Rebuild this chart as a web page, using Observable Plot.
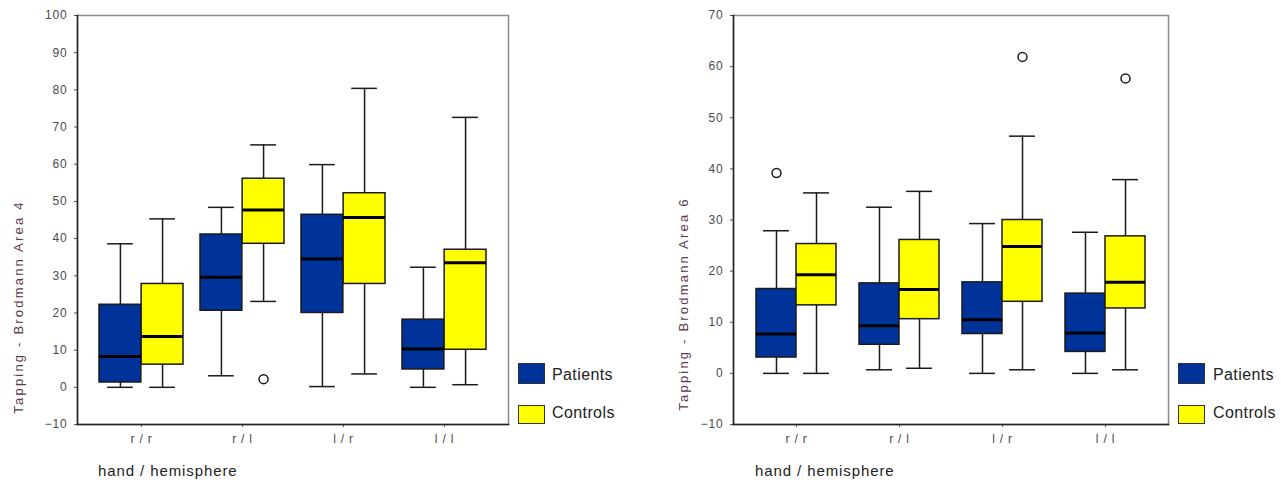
<!DOCTYPE html>
<html><head><meta charset="utf-8">
<script src="https://cdn.jsdelivr.net/npm/d3@7"></script>
<script src="https://cdn.jsdelivr.net/npm/@observablehq/plot@0.6"></script>
<style>
body{margin:0;background:#fff;font-family:"Liberation Sans",Arial,sans-serif;}
#wrap{position:relative;width:1281px;height:485px;overflow:hidden;background:#fff}
.panel{position:absolute;top:0}
.ytitle{position:absolute;transform:translate(-50%,-50%) rotate(-90deg);white-space:nowrap;font-size:13px;letter-spacing:2.2px;color:#5a3a4e}
.xtitle{position:absolute;white-space:nowrap;font-size:15px;letter-spacing:0.9px;color:#222}
.lg-box{position:absolute;width:25px;box-sizing:border-box;border:1.5px solid #333}
.lg-text{position:absolute;white-space:nowrap;font-size:16px;letter-spacing:0.4px;color:#222;transform:translateY(-50%)}
</style></head><body><div id="wrap"></div>
<script>
// categories and groups
const categories = ["r / r", "r / l", "l / r", "l / l"];
const groups = ["Patients", "Controls"];
const groupColors = ["#003399", "#ffff00"];

// Brodmann Area 4 — each row: [low whisker, Q1, median, Q3, high whisker]
const area4Patients = [
  [0, 1.3, 8.3, 22.2, 38.6],
  [3.1, 20.6, 29.6, 41.1, 48.4],
  [0.2, 20.0, 34.5, 46.4, 59.9],
  [0, 4.8, 10.3, 18.2, 32.3]
];
const area4Controls = [
  [0, 6.1, 13.7, 27.8, 45.3],
  [23.1, 38.6, 47.7, 56.1, 65.2],
  [3.6, 27.8, 45.7, 52.2, 80.4],
  [0.7, 10.1, 33.5, 37.0, 72.6]
];
const area4Outliers = [
  {category: "r / l", group: "Controls", value: 2.2}
];
const area4YTicks = [-10, 0, 10, 20, 30, 40, 50, 60, 70, 80, 90, 100];

// Brodmann Area 6
const area6Patients = [
  [0, 3.1, 7.7, 16.5, 27.9],
  [0.7, 5.6, 9.3, 17.6, 32.5],
  [0, 7.7, 10.5, 17.8, 29.3],
  [0, 4.2, 7.9, 15.6, 27.6]
];
const area6Controls = [
  [0, 13.3, 19.3, 25.3, 35.3],
  [1.0, 10.6, 16.4, 26.1, 35.6],
  [0.7, 14.0, 24.8, 30.0, 46.4],
  [0.7, 12.7, 17.8, 26.8, 37.9]
];
const area6Outliers = [
  {category: "r / r", group: "Patients", value: 39.2},
  {category: "l / r", group: "Controls", value: 61.9},
  {category: "l / l", group: "Controls", value: 57.7}
];
const area6YTicks = [-10, 0, 10, 20, 30, 40, 50, 60, 70];

const yTitles = ["Tapping - Brodmann Area 4", "Tapping - Brodmann Area 6"];
const xTitle = "hand / hemisphere";

function toRows(stats, group) {
  return stats.map((s, i) => ({category: categories[i], group, low: s[0], q1: s[1], median: s[2], q3: s[3], high: s[4]}));
}

function panel({patients, controls, outliers, yDomain, yTicks, width, ml, mr, mt, mb, height, pi, po}) {
  const n = categories.length;
  const step = (width - ml - mr) / (n - pi + 2 * po);
  const bw = step * (1 - pi);
  const half = bw / 2, cap = 13;
  const P = toRows(patients, groups[0]);
  const C = toRows(controls, groups[1]);
  const oP = outliers.filter(d => d.group === groups[0]);
  const oC = outliers.filter(d => d.group === groups[1]);
  const ink = "#1a1a1a";
  return Plot.plot({
    width, height, marginLeft: ml, marginRight: mr, marginTop: mt, marginBottom: mb,
    style: {fontSize: "12px", letterSpacing: "0.8px", fontFamily: "'Liberation Sans', Arial, sans-serif", color: "#4a4a4a", background: "transparent"},
    x: {domain: categories, paddingInner: pi, paddingOuter: po, tickSize: 3, tickPadding: 7, label: null},
    y: {domain: yDomain, ticks: yTicks, tickSize: 3, tickPadding: 7, label: null},
    marks: [
      Plot.frame({stroke: "#8a8a8a", strokeWidth: 1.5}),
      Plot.frame({anchor: "left", stroke: "#222", strokeWidth: 1.5}),
      Plot.frame({anchor: "bottom", stroke: "#222", strokeWidth: 1.5}),
      // whiskers
      Plot.ruleX(P, {x: "category", y1: "low", y2: "high", dx: -bw / 4, stroke: ink, strokeWidth: 1.5}),
      Plot.ruleX(C, {x: "category", y1: "low", y2: "high", dx: bw / 4, stroke: ink, strokeWidth: 1.5}),
      Plot.tickY(P, {x: "category", y: "high", insetLeft: bw / 4 - cap, insetRight: 3 * bw / 4 - cap, stroke: ink, strokeWidth: 1.5}),
      Plot.tickY(P, {x: "category", y: "low", insetLeft: bw / 4 - cap, insetRight: 3 * bw / 4 - cap, stroke: ink, strokeWidth: 1.5}),
      Plot.tickY(C, {x: "category", y: "high", insetLeft: 3 * bw / 4 - cap, insetRight: bw / 4 - cap, stroke: ink, strokeWidth: 1.5}),
      Plot.tickY(C, {x: "category", y: "low", insetLeft: 3 * bw / 4 - cap, insetRight: bw / 4 - cap, stroke: ink, strokeWidth: 1.5}),
      // boxes
      Plot.barY(P, {x: "category", y1: "q1", y2: "q3", insetRight: half, fill: groupColors[0], stroke: ink, strokeWidth: 1.5}),
      Plot.barY(C, {x: "category", y1: "q1", y2: "q3", insetLeft: half, fill: groupColors[1], stroke: ink, strokeWidth: 1.5}),
      // medians
      Plot.tickY(P, {x: "category", y: "median", insetRight: half, stroke: "#000", strokeWidth: 3}),
      Plot.tickY(C, {x: "category", y: "median", insetLeft: half, stroke: "#000", strokeWidth: 3}),
      // outliers
      Plot.dot(oP, {x: "category", y: "value", dx: -bw / 4, r: 4.5, fill: "#fff", stroke: ink, strokeWidth: 1.5}),
      Plot.dot(oC, {x: "category", y: "value", dx: bw / 4, r: 4.5, fill: "#fff", stroke: ink, strokeWidth: 1.5})
    ]
  });
}

const wrap = document.getElementById("wrap");

function addPanel(svg, left) {
  const d = document.createElement("div");
  d.className = "panel";
  d.style.left = left + "px";
  d.appendChild(svg);
  wrap.appendChild(d);
}

addPanel(panel({patients: area4Patients, controls: area4Controls, outliers: area4Outliers,
  yDomain: [-10, 100], yTicks: area4YTicks, width: 640, height: 485, ml: 77, mr: 132, mt: 15, mb: 61, pi: 0.17, po: 0.207}), 0);
addPanel(panel({patients: area6Patients, controls: area6Controls, outliers: area6Outliers,
  yDomain: [-10, 70], yTicks: area6YTicks, width: 641, height: 485, ml: 93, mr: 113, mt: 15, mb: 61, pi: 0.223, po: 0.223}), 640);

function addText(cls, text, x, y) {
  const d = document.createElement("div");
  d.className = cls;
  d.textContent = text;
  d.style.left = x + "px";
  d.style.top = y + "px";
  wrap.appendChild(d);
  return d;
}

addText("ytitle", yTitles[0], 18, 307);
addText("ytitle", yTitles[1], 683, 304);
addText("xtitle", xTitle, 98, 462);
addText("xtitle", xTitle, 755, 462);

function legend(x, textX) {
  const tops = [363, 405], heights = [21, 19], centers = [375, 413];
  groups.forEach((g, i) => {
    const b = document.createElement("div");
    b.className = "lg-box";
    b.style.left = x + "px";
    b.style.top = tops[i] + "px";
    b.style.height = heights[i] + "px";
    b.style.width = "27px";
    b.style.background = groupColors[i];
    wrap.appendChild(b);
    addText("lg-text", g, textX, centers[i]);
  });
}
legend(518, 552);
legend(1178, 1213);
</script>
</body></html>
